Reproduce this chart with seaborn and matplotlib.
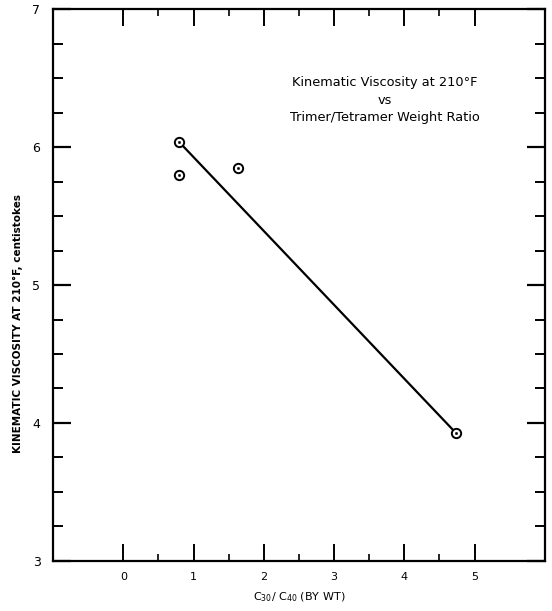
import numpy as np
import pandas as pd
import seaborn as sns
import matplotlib.pyplot as plt
from matplotlib.ticker import MultipleLocator

sns.set_style("ticks")
plt.rcParams['font.family'] = ['DejaVu Sans']
plt.rcParams['text.color'] = 'black'
plt.rcParams['axes.labelcolor'] = 'black'
plt.rcParams['xtick.color'] = 'black'
plt.rcParams['ytick.color'] = 'black'

# data
ratio = [0.79, 0.80, 1.63, 4.73]
viscosity = [6.04, 5.80, 5.85, 3.93]
line_ratio = [0.79, 4.73]
line_visc = [6.04, 3.93]
x_ticks = [0, 1, 2, 3, 4, 5]
y_ticks = [3, 4, 5, 6, 7]

df = pd.DataFrame({'ratio': ratio, 'visc': viscosity})
df_line = pd.DataFrame({'ratio': line_ratio, 'visc': line_visc})

fig = plt.figure(figsize=(5.52, 6.11), dpi=100)
ax = fig.add_axes([0.096, 0.082, 0.891, 0.903])

sns.lineplot(data=df_line, x='ratio', y='visc', color='black', linewidth=1.6, ax=ax)
sns.scatterplot(data=df, x='ratio', y='visc', s=45, facecolor='white',
                edgecolor='black', linewidth=1.4, zorder=3, ax=ax)
sns.scatterplot(data=df, x='ratio', y='visc', s=3, color='black',
                edgecolor='black', linewidth=0.3, zorder=4, ax=ax)

ax.set_xlim(-1, 6)
ax.set_ylim(3, 7)
ax.set_xticks(x_ticks)
ax.set_yticks(y_ticks)
ax.yaxis.set_minor_locator(MultipleLocator(0.25))
# minor x ticks only between 0 and 5
ax.set_xticks([v for v in np.arange(0.5, 5.0, 1.0)], minor=True)

ax.tick_params(which='both', direction='in', top=True, right=True, color='black')
ax.tick_params(axis='x', which='major', length=12, width=1.4, pad=8, labelsize=8)
ax.tick_params(axis='x', which='minor', length=5, width=1.2)
ax.tick_params(axis='y', which='major', length=13, width=1.6, pad=9, labelsize=9)
ax.tick_params(axis='y', which='minor', length=7, width=1.4)

for s in ax.spines.values():
    s.set_linewidth(1.6)
    s.set_color('black')

ax.set_xlabel('C$_{30}$/ C$_{40}$ (BY WT)', fontsize=8, labelpad=6)
ax.set_ylabel('KINEMATIC VISCOSITY AT 210°F, centistokes', fontsize=7.5,
              fontweight='bold', labelpad=10)
ax.yaxis.set_label_coords(-0.06, 0.43)

ax.text(3.72, 6.34, 'Kinematic Viscosity at 210°F\nvs\nTrimer/Tetramer Weight Ratio',
        ha='center', va='center', fontsize=9.3, linespacing=1.45)

fig.savefig('out.png', dpi=100)
